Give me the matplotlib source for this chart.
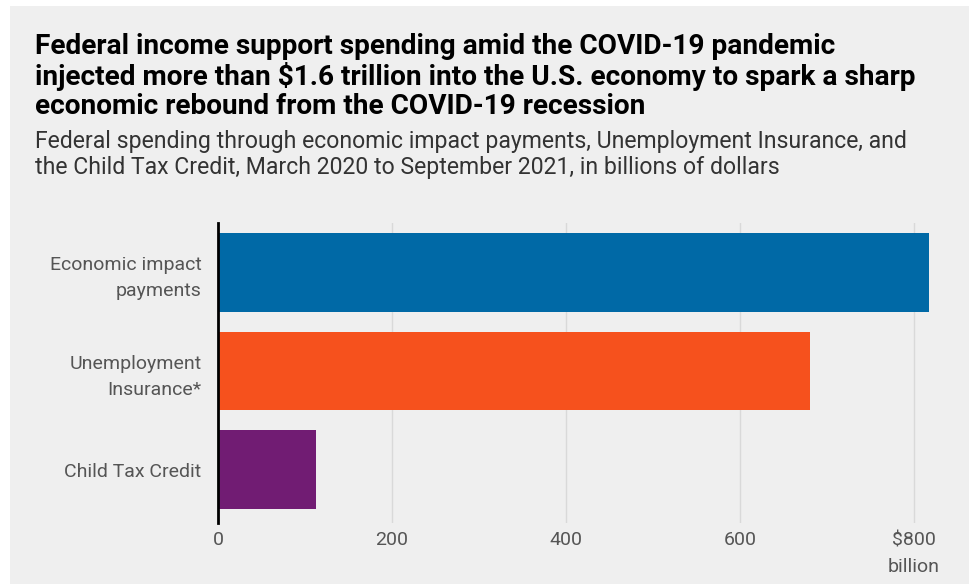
import matplotlib
matplotlib.use("Agg")
import matplotlib.pyplot as plt
from matplotlib.patches import Rectangle

categories = ["Economic impact\npayments", "Unemployment\nInsurance*", "Child Tax Credit"]
values = [817, 680, 113]
colors = ["#0069a6", "#f6511d", "#711c73"]
xticks = [0, 200, 400, 600, 800]
xticklabels = ["0", "200", "400", "600", "$800\nbillion"]

title = ("Federal income support spending amid the COVID-19 pandemic\n"
         "injected more than $1.6 trillion into the U.S. economy to spark a sharp\n"
         "economic rebound from the COVID-19 recession")
subtitle = ("Federal spending through economic impact payments, Unemployment Insurance, and\n"
            "the Child Tax Credit, March 2020 to September 2021, in billions of dollars")

plt.rcParams['font.family'] = ['Roboto', 'DejaVu Sans']
W, H = 970, 584
fig = plt.figure(figsize=(W/100, H/100), dpi=100)
fig.patch.set_facecolor("white")
bg = "#efefef"
fig.patches.append(Rectangle((10/W, 0), 1, 1 - 6/H, transform=fig.transFigure,
                             facecolor=bg, edgecolor="none", zorder=-10))

ax = fig.add_axes([218/W, 1 - 523/H, (940-218)/W, (523-223)/H])
ax.set_facecolor(bg)
ypos = list(range(len(categories)))
ax.barh(ypos, values, height=0.8, color=colors, zorder=3)
ax.set_ylim(2.54, -0.5)
ax.set_xlim(0, 830)
ax.set_yticks(ypos)
ax.set_yticklabels(categories, fontsize=14, color="#555555", linespacing=1.55)
ax.set_xticks(xticks)
ax.set_xticklabels(xticklabels, fontsize=14, color="#555555", linespacing=1.6)
ax.tick_params(axis="both", length=0)
ax.tick_params(axis="y", pad=12)
ax.tick_params(axis="x", pad=6)
ax.grid(axis="x", color="#d9d9d9", linewidth=1, zorder=0)
for s in ["top", "right", "bottom"]:
    ax.spines[s].set_visible(False)
ax.spines["left"].set_color("black")
ax.spines["left"].set_linewidth(2)
ax.spines["left"].set_zorder(5)

fig.text(35/W, 1 - 33/H, title, fontsize=20.2, fontweight="bold", color="black",
         va="top", ha="left", linespacing=1.08)
fig.text(35/W, 1 - 130/H, subtitle, fontsize=16.6, color="#333333",
         va="top", ha="left", linespacing=1.15)

fig.savefig("out.png", dpi=100, facecolor="white")
